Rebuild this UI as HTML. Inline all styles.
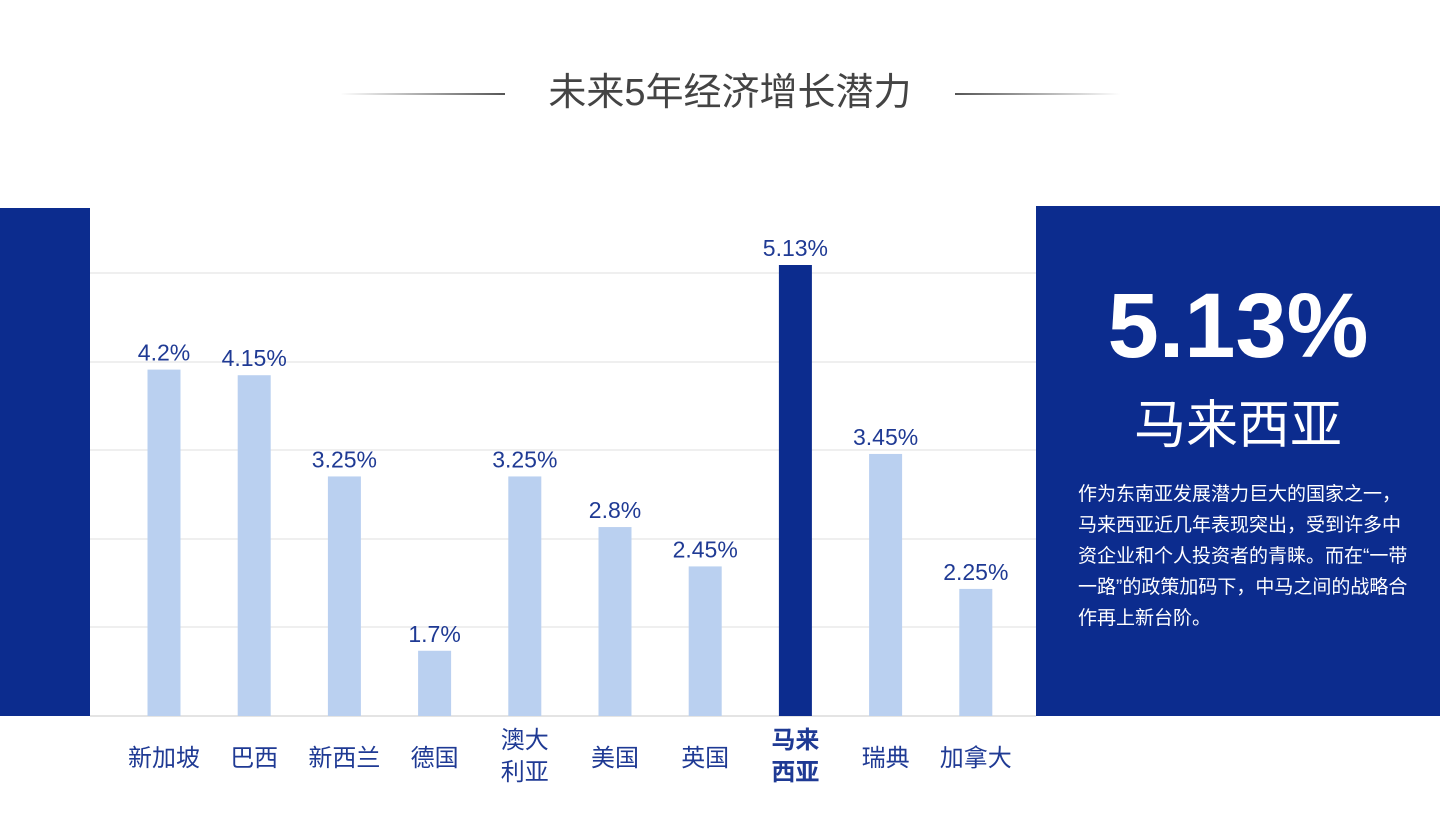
<!DOCTYPE html>
<html><head><meta charset="utf-8">
<style>
body{margin:0;width:1440px;height:818px;background:#fff;overflow:hidden;position:relative;font-family:"Liberation Sans","Noto Sans CJK SC",sans-serif;}
.abs{position:absolute;}
</style></head>
<body>
<div class="abs" style="left:340px;top:93px;width:165px;height:2px;background:linear-gradient(to right,rgba(80,80,80,0),#555);"></div>
<div class="abs" style="left:505px;top:68px;width:450px;text-align:center;font-size:38px;color:#444;line-height:50px;">未来5年经济增长潜力</div>
<div class="abs" style="left:955px;top:93px;width:165px;height:2px;background:linear-gradient(to left,rgba(80,80,80,0),#555);"></div>
<div class="abs" style="left:0;top:208px;width:90px;height:508px;background:#0c2c8e;"></div>
<div class="abs" style="left:1036px;top:206px;width:404px;height:510px;background:#0c2c8e;color:#fff;">
  <div style="position:absolute;left:0;width:404px;top:70px;text-align:center;font-size:92px;font-weight:bold;line-height:100px;">5.13%</div>
  <div style="position:absolute;left:0;width:404px;top:190px;text-align:center;font-size:52px;line-height:60px;">马来西亚</div>
  <div style="position:absolute;left:42px;width:335px;top:273px;font-size:19px;line-height:31px;">作为东南亚发展潜力巨大的国家之一，马来西亚近几年表现突出，受到许多中资企业和个人投资者的青睐。而在“一带一路”的政策加码下，中马之间的战略合作再上新台阶。</div>
</div>
<svg class="abs" style="left:0;top:0" width="1440" height="818" id="chart"></svg>
<script>
const categories=["新加坡","巴西","新西兰","德国","澳大利亚","美国","英国","马来西亚","瑞典","加拿大"];
const values=[4.2,4.15,3.25,1.7,3.25,2.8,2.45,5.13,3.45,2.25];
const labels=["4.2%","4.15%","3.25%","1.7%","3.25%","2.8%","2.45%","5.13%","3.45%","2.25%"];
const highlightIndex=7;
const yMin=1.12,yMax=5.13;
const NS="http://www.w3.org/2000/svg";
const svg=document.getElementById('chart');
const base=716,topY=265;
function y(v){return base-(v-yMin)/(yMax-yMin)*(base-topY);}
function x(i){return 164+i*90.2;}
function mk(t,a){const e=document.createElementNS(NS,t);for(const k in a)e.setAttribute(k,a[k]);svg.appendChild(e);return e;}
[273,362,450,539,627].forEach(g=>{
  const l=mk('line',{x1:90,x2:1036,y1:g,y2:g,stroke:'#efefef','stroke-width':2});
  
  
});
const bl=mk('line',{x1:90,x2:1036,y1:base,y2:base,stroke:'#e4e4e4','stroke-width':2});


values.forEach((v,i)=>{
  const hi=i===highlightIndex;
  const r=mk('rect',{x:x(i)-16.5,y:y(v),width:33,height:base-y(v),fill:hi?'#0c2c8e':'#bad0f0'});
  
  
  const t=mk('text',{x:x(i),y:y(v)-9,'text-anchor':'middle','font-size':23,fill:'#1f3a94','font-family':'Liberation Sans, sans-serif'});
  t.textContent=labels[i];
  
  
  const c=categories[i];
  const lines=c.length>3?[c.slice(0,2),c.slice(2)]:[c];
  lines.forEach((s,j)=>{
    const yy=lines.length>1?748+j*32:766;
    const ct=mk('text',{x:x(i),y:yy,'text-anchor':'middle','font-size':24,fill:'#1f3a94','font-weight':hi?'bold':'normal','font-family':'Liberation Sans, Noto Sans CJK SC, sans-serif'});
    ct.textContent=s;
    
    
  });
});
</script>
</body></html>
